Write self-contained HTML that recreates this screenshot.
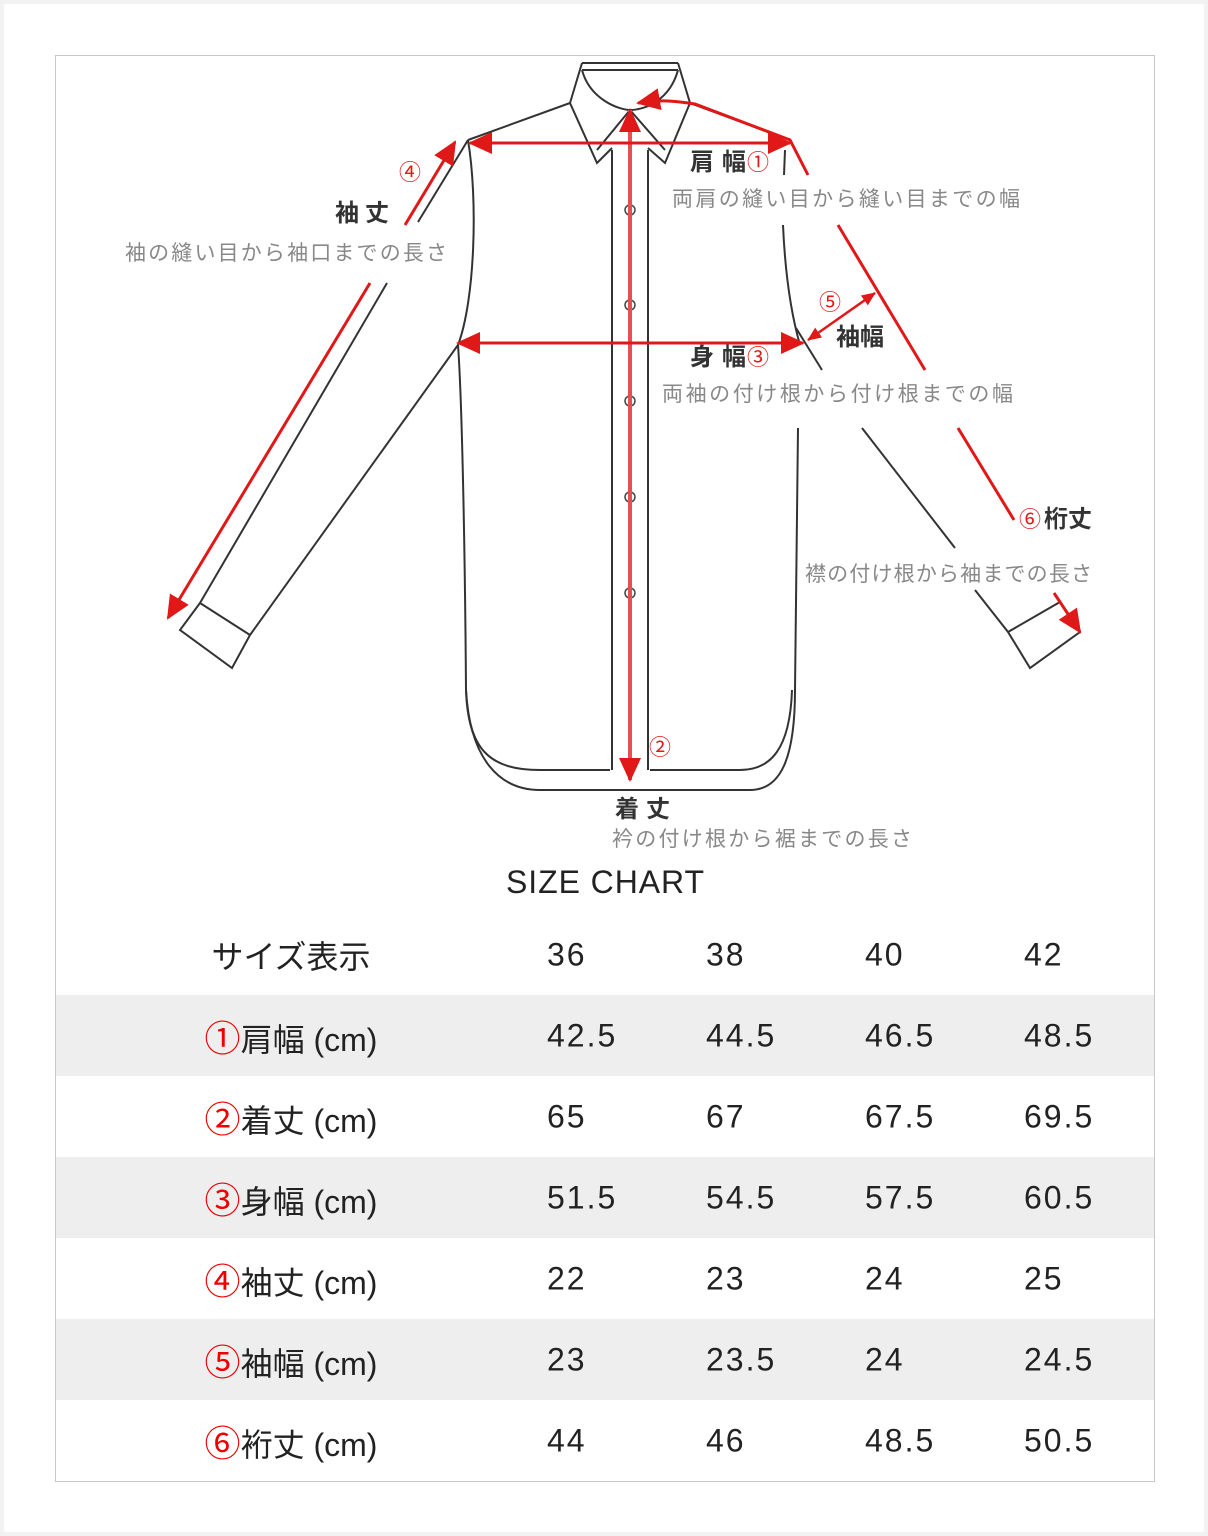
<!DOCTYPE html>
<html><head><meta charset="utf-8"><style>
html,body{margin:0;padding:0;background:#fff;}
body{width:1208px;height:1536px;position:relative;overflow:hidden;font-family:"Liberation Sans","Noto Sans CJK JP",sans-serif;}
.frame{position:absolute;left:0;top:0;width:1200px;height:1528px;border:4px solid #f2f2f2;}
.box{position:absolute;left:55px;top:55px;width:1098px;height:1425px;border:1px solid #c8c8c8;}
.row{position:absolute;left:56px;width:1098px;height:81px;font-size:32px;color:#222;}
.row.g{background:#eeeeee;}
.row span{position:absolute;top:50%;transform:translateY(-50%);white-space:nowrap;}
.row span.c1,.row span.c2,.row span.c3,.row span.c4{letter-spacing:2px;}
.lab{left:0;width:470px;text-align:center;}
.r{color:#e00;font-weight:normal;font-size:36px;}
.c1{left:491px}.c2{left:650px}.c3{left:809px}.c4{left:968px}
</style></head><body>
<div class="frame"></div>
<div class="box"></div>
<svg width="1208" height="910" style="position:absolute;left:0;top:0" font-family="Liberation Sans, Noto Sans CJK JP, sans-serif">
<defs>
<marker id="b" markerWidth="24" markerHeight="22" refX="22" refY="11" orient="auto-start-reverse" markerUnits="userSpaceOnUse"><path d="M0,0 L24,11 L0,22z" fill="#e01818"/></marker>
<marker id="s" markerWidth="14" markerHeight="12" refX="13" refY="6" orient="auto-start-reverse" markerUnits="userSpaceOnUse"><path d="M0,0 L14,6 L0,12z" fill="#e01818"/></marker>
</defs>
<g fill="none" stroke="#333" stroke-width="2">
<path d="M582,63 L678,63 M582,70 L678,70 M582,63 L570,103 L597,163 L612,148 M678,63 L690,103 L665,163 L648,148"/>
<path d="M582,70 C590,100 620,110 630,110 C645,110 670,100 678,70"/>
<path d="M597,150 L630,110 L665,150"/>
<path d="M570,103 L468,140 M690,103 L790,140"/>
<path d="M468,140 C478,200 475,300 458,345 C462,400 465,550 466,690 C468,750 490,770 540,770 L610,770"/>
<path d="M466,690 C470,760 500,790 540,790 L750,790 C780,790 795,760 795,690"/>
<path d="M650,770 L740,770 C770,770 790,750 792,690"/>
<path d="M785,150 L784,175 M783,225 C785,270 790,310 800,345 M798,428 L795,690"/>
<path d="M612,150 L612,770 M648,150 L648,770"/>
<path d="M468,140 L418,222 M387,283 L200,603 M458,345 L250,635 M200,603 L180,630 L232,668 L250,635 L200,603"/>
<path d="M796,328 L822,370 M862,428 L955,548 M975,590 L1008,632 L1030,668 L1080,632 L1060,602 L1008,632"/>
</g>
<g fill="none" stroke="#444" stroke-width="1.5">
<circle cx="630" cy="210" r="5"/><circle cx="630" cy="305" r="5"/><circle cx="630" cy="401" r="5"/><circle cx="630" cy="497" r="5"/><circle cx="630" cy="593" r="5"/>
</g>
<g fill="none" stroke="#e01818" stroke-width="3">
<path d="M630,780 L630,110" stroke="#e85050" stroke-width="4" marker-start="url(#b)" marker-end="url(#b)"/>
<path d="M470,143 L790,143" marker-start="url(#b)" marker-end="url(#b)"/>
<path d="M458,343 L803,343" marker-start="url(#b)" marker-end="url(#b)"/>
<path d="M808,175 L790,140 L695,104 C670,100 655,100 638,103" marker-end="url(#b)"/>
<path d="M405,225 L455,142" marker-end="url(#b)"/>
<path d="M370,283 L168,618" marker-end="url(#b)"/>
<path d="M838,225 L925,370 M958,428 L1014,520"/>
<path d="M1054,593 L1080,632" marker-end="url(#b)"/>
<path d="M808,340 L875,293" stroke-width="2.5" marker-start="url(#s)" marker-end="url(#s)"/>
</g>
<g font-size="22" fill="#e01818">
<text x="399" y="180">④</text>
<text x="747" y="170">①</text>
<text x="747" y="365">③</text>
<text x="819" y="310">⑤</text>
<text x="649" y="755">②</text>
<text x="1019" y="527">⑥</text>
</g>
<g font-size="24" fill="#333" font-weight="bold">
<text x="335" y="221" textLength="54">袖丈</text>
<text x="690" y="170" textLength="56">肩幅</text>
<text x="690" y="365" textLength="56">身幅</text>
<text x="836" y="345" textLength="48">袖幅</text>
<text x="1044" y="527" textLength="48">桁丈</text>
<text x="615" y="817" textLength="55">着丈</text>
</g>
<g font-size="21" fill="#888">
<text x="125" y="260" textLength="322">袖の縫い目から袖口までの長さ</text>
<text x="672" y="206" textLength="348">両肩の縫い目から縫い目までの幅</text>
<text x="662" y="401" textLength="351">両袖の付け根から付け根までの幅</text>
<text x="805" y="581" textLength="287">襟の付け根から袖までの長さ</text>
<text x="612" y="846" textLength="300">衿の付け根から裾までの長さ</text>
</g>
<text x="506" y="893" font-size="32" fill="#222" textLength="198">SIZE CHART</text>
</svg>
<div class="row" style="top:914px"><span class="lab">サイズ表示</span><span class="c1">36</span><span class="c2">38</span><span class="c3">40</span><span class="c4">42</span></div>
<div class="row g" style="top:995px"><span class="lab"><b class="r">①</b>肩幅 (cm)</span><span class="c1">42.5</span><span class="c2">44.5</span><span class="c3">46.5</span><span class="c4">48.5</span></div>
<div class="row" style="top:1076px"><span class="lab"><b class="r">②</b>着丈 (cm)</span><span class="c1">65</span><span class="c2">67</span><span class="c3">67.5</span><span class="c4">69.5</span></div>
<div class="row g" style="top:1157px"><span class="lab"><b class="r">③</b>身幅 (cm)</span><span class="c1">51.5</span><span class="c2">54.5</span><span class="c3">57.5</span><span class="c4">60.5</span></div>
<div class="row" style="top:1238px"><span class="lab"><b class="r">④</b>袖丈 (cm)</span><span class="c1">22</span><span class="c2">23</span><span class="c3">24</span><span class="c4">25</span></div>
<div class="row g" style="top:1319px"><span class="lab"><b class="r">⑤</b>袖幅 (cm)</span><span class="c1">23</span><span class="c2">23.5</span><span class="c3">24</span><span class="c4">24.5</span></div>
<div class="row" style="top:1400px"><span class="lab"><b class="r">⑥</b>裄丈 (cm)</span><span class="c1">44</span><span class="c2">46</span><span class="c3">48.5</span><span class="c4">50.5</span></div>
</body></html>
